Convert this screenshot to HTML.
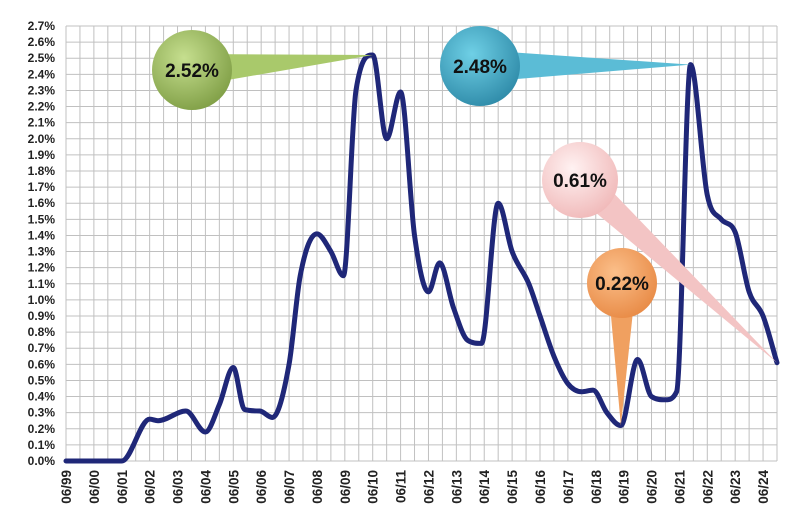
<!DOCTYPE html>
<html><head><meta charset="utf-8"><style>
body{margin:0;background:#fff}
svg{display:block;font-family:"Liberation Sans",sans-serif}
</style></head><body>
<svg id="c" width="800" height="527">
<defs>
<radialGradient id="gG" cx="40%" cy="35%" r="70%"><stop offset="0" stop-color="#c6df8f"/><stop offset="1" stop-color="#7f9e45"/></radialGradient>
<radialGradient id="gB" cx="40%" cy="35%" r="70%"><stop offset="0" stop-color="#6fd0e6"/><stop offset="1" stop-color="#2e8aa8"/></radialGradient>
<radialGradient id="gP" cx="40%" cy="35%" r="70%"><stop offset="0" stop-color="#fff2f2"/><stop offset="1" stop-color="#f0b8b8"/></radialGradient>
<radialGradient id="gO" cx="40%" cy="35%" r="70%"><stop offset="0" stop-color="#fbbf8a"/><stop offset="1" stop-color="#e88a45"/></radialGradient>
</defs>
<g id="grid"></g><g id="axes"></g><g id="series"></g><g id="callouts"></g>
</svg>
<script>
const years=[0,2.0,3.0,3.3,4.3,5.0,5.5,6.0,6.4,6.95,7.4,8.0,8.4,9.0,9.5,9.95,10.4,11.0,11.5,12.0,12.5,13.0,13.4,13.9,14.4,14.9,15.5,16.0,16.6,17.0,17.5,18.0,18.5,18.9,19.4,19.9,20.5,21.0,21.5,21.9,22.4,23.0,23.5,24.0,24.5,25.0,25.5];
const values=[0,0,0.26,0.25,0.31,0.18,0.35,0.58,0.32,0.31,0.27,0.6,1.15,1.41,1.3,1.15,2.3,2.52,2.0,2.29,1.4,1.05,1.23,0.95,0.75,0.73,1.6,1.3,1.1,0.9,0.65,0.48,0.43,0.44,0.3,0.22,0.63,0.4,0.38,0.43,2.46,1.65,1.5,1.42,1.05,0.9,0.61];
const xLabels=["06/99","06/00","06/01","06/02","06/03","06/04","06/05","06/06","06/07","06/08","06/09","06/10","06/11","06/12","06/13","06/14","06/15","06/16","06/17","06/18","06/19","06/20","06/21","06/22","06/23","06/24"];
const yTicks=[0,0.1,0.2,0.3,0.4,0.5,0.6,0.7,0.8,0.9,1.0,1.1,1.2,1.3,1.4,1.5,1.6,1.7,1.8,1.9,2.0,2.1,2.2,2.3,2.4,2.5,2.6,2.7];
const calloutIdx=[17,40,46,35];
const calloutLabels=["2.52%","2.48%","0.61%","0.22%"];
const calloutStyle=[["gG","#a9c96b",192,70,40],["gB","#5bbcd6",480,66,40],["gP","#f3c4c4",580,180,38],["gO","#f0a060",622,283,35]];
const NS="http://www.w3.org/2000/svg";
const L=66,R=777,T=26,B=461,TMAX=25.5,VMAX=2.7;
const x=t=>L+(R-L)*t/TMAX, y=v=>B-(B-T)*v/VMAX;
function mk(tag,a,p){const e=document.createElementNS(NS,tag);for(const k in a)e.setAttribute(k,a[k]);p.appendChild(e);return e;}
const grid=document.getElementById('grid'),axes=document.getElementById('axes');
for(let i=0;i<=51;i++){const e=mk('line',{x1:x(i/2),x2:x(i/2),y1:T,y2:B,stroke:'#c0c0c0','stroke-width':1},grid);
}
yTicks.forEach(v=>{const e=mk('line',{x1:L,x2:R,y1:y(v),y2:y(v),stroke:'#c0c0c0','stroke-width':1},grid);

const t=mk('text',{x:55,y:y(v)+4,'text-anchor':'end','font-size':12,'font-weight':'bold',fill:'#222'},axes);t.textContent=v.toFixed(1)+'%';
});
xLabels.forEach((s,i)=>{const px=x(i),e=mk('text',{x:0,y:0,transform:`translate(${px+5},470) rotate(-90)`,'text-anchor':'end','font-size':13.5,'font-weight':'bold',fill:'#222'},axes);e.textContent=s;
});
const pts=years.map((t,i)=>[x(t),y(values[i])]);
// monotone cubic
const n=pts.length,dk=[],m=[];
for(let i=0;i<n-1;i++)dk.push((pts[i+1][1]-pts[i][1])/(pts[i+1][0]-pts[i][0]));
for(let i=0;i<n;i++){if(i===0)m.push(dk[0]);else if(i===n-1)m.push(dk[n-2]);else if(dk[i-1]*dk[i]<=0)m.push(0);else m.push((dk[i-1]+dk[i])/2);}
for(let i=0;i<n-1;i++){if(dk[i]===0){m[i]=0;m[i+1]=0;continue;}const a=m[i]/dk[i],b=m[i+1]/dk[i],s=a*a+b*b;if(s>9){const tt=3/Math.sqrt(s);m[i]=tt*a*dk[i];m[i+1]=tt*b*dk[i];}}
let d=`M${pts[0][0]},${pts[0][1]}`;
for(let i=0;i<n-1;i++){const h=(pts[i+1][0]-pts[i][0])/3;
d+=` C${pts[i][0]+h},${pts[i][1]+m[i]*h} ${pts[i+1][0]-h},${pts[i+1][1]-m[i+1]*h} ${pts[i+1][0]},${pts[i+1][1]}`;}
const ln=mk('path',{d,fill:'none',stroke:'#1f2778','stroke-width':5,'stroke-linejoin':'round','stroke-linecap':'round'},document.getElementById('series'));

const co=document.getElementById('callouts');
calloutIdx.forEach((idx,k)=>{const [g,wc,cx,cy,r]=calloutStyle[k];const tx=x(years[idx]),ty=y(values[idx]);
const a=Math.atan2(ty-cy,tx-cx),w=0.4*r;
const p1=[cx+w*Math.cos(a+Math.PI/2),cy+w*Math.sin(a+Math.PI/2)],p2=[cx+w*Math.cos(a-Math.PI/2),cy+w*Math.sin(a-Math.PI/2)];
const wd=mk('polygon',{points:`${p1} ${tx},${ty} ${p2}`,fill:wc},co);

const c=mk('circle',{cx,cy,r,fill:`url(#${g})`},co);

const t=mk('text',{x:cx,y:cy+7,'text-anchor':'middle','font-size':19,'font-weight':'bold',fill:'#111'},co);t.textContent=calloutLabels[k];
});
</script>
</body></html>
